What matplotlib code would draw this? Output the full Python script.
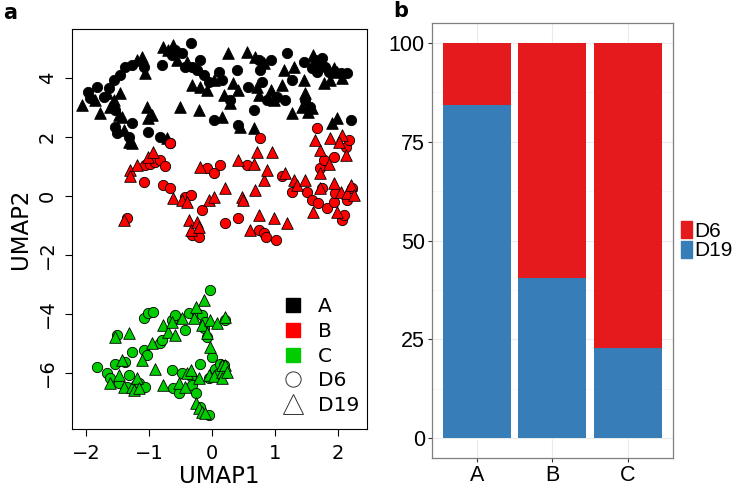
import numpy as np
import matplotlib
matplotlib.use("Agg")
import matplotlib.pyplot as plt
from matplotlib.lines import Line2D
from matplotlib.patches import Patch

# panel a: UMAP points (x, y)
a_d6 = [(-1.96, 3.54), (-1.93, 3.31), (-1.83, 3.7), (-1.72, 3.37), (-1.64, 3.65), (-1.56, 3.93),
        (-1.53, 2.92), (-1.46, 4.1), (-1.53, 2.35), (-1.51, 2.12), (-1.38, 4.38), (-1.32, 2.01),
        (-1.27, 4.44), (-1.27, 2.46), (-1.08, 4.38), (-1.01, 2.18), (-0.82, 2.01), (-0.66, 1.79),
        (-0.79, 4.44), (-0.63, 4.78), (-0.58, 4.95), (-0.48, 4.84), (-0.42, 4.38), (-0.34, 5.17),
        (-0.32, 4.38), (-0.24, 4.27), (-0.19, 4.61), (-0.13, 4.1), (-0.05, 3.88), (0.03, 2.58),
        (0.11, 4.21), (0.16, 3.93), (0.29, 3.25), (0.40, 4.27), (0.42, 2.41), (0.58, 3.71),
        (0.66, 2.92), (0.74, 4.61), (0.77, 4.27), (0.79, 3.88), (0.87, 3.25), (0.93, 4.61),
        (1.03, 3.37), (1.16, 3.25), (1.19, 4.84), (1.27, 3.93), (1.46, 4.55), (1.48, 3.25),
        (1.56, 3.03), (1.59, 4.33), (1.64, 4.61), (1.67, 4.21), (1.75, 4.67), (1.80, 4.38),
        (1.85, 4.21), (2.04, 4.16), (2.14, 4.16), (2.20, 2.58)]
a_d19 = [(-2.06, 3.08), (-1.85, 3.25), (-1.77, 2.8), (-1.67, 3.48), (-1.61, 3.03), (-1.56, 3.25),
         (-1.48, 2.75), (-1.46, 3.48), (-1.43, 2.69), (-1.40, 2.24), (-1.32, 1.84), (-1.27, 1.79),
         (-1.19, 4.61), (-1.11, 4.72), (-1.06, 4.16), (-1.03, 3.03), (-1.01, 2.63), (-0.95, 2.75),
         (-0.71, 1.95), (-0.77, 5.06), (-0.69, 4.95), (-0.61, 5.12), (-0.56, 4.61), (-0.50, 3.03),
         (-0.40, 4.55), (-0.32, 3.76), (-0.21, 2.92), (-0.19, 3.71), (-0.08, 3.59), (0.03, 3.93),
         (0.16, 2.69), (0.19, 3.42), (0.26, 4.84), (0.29, 3.14), (0.34, 3.82), (0.42, 3.59),
         (0.45, 2.35), (0.56, 4.89), (0.66, 2.29), (0.69, 4.72), (0.71, 3.71), (0.74, 3.42),
         (0.82, 4.5), (0.93, 3.59), (0.98, 3.25), (1.11, 3.76), (1.14, 4.27), (1.27, 2.8),
         (1.30, 4.38), (1.43, 3.03), (1.46, 3.93), (1.48, 3.48), (1.53, 2.86), (1.59, 2.97),
         (1.61, 4.78), (1.72, 4.5), (1.77, 3.82), (1.88, 3.93), (1.93, 4.33), (1.90, 2.46),
         (1.98, 2.63), (2.06, 3.99), (1.98, 4.21)]
b_d6 = [(-1.35, -0.76), (-1.08, 0.49), (-1.06, 1.05), (-0.98, 1.1), (-0.90, 1.16), (-0.82, 1.22),
        (-0.74, 1.0), (-0.77, 0.37), (-0.66, 0.26), (-0.42, -0.02), (-0.34, 0.03), (-0.32, -1.32),
        (-0.21, -1.38), (-0.16, -0.47), (-0.08, 0.94), (0.03, 0.77), (0.13, 1.05), (0.21, -0.93),
        (0.42, -0.76), (0.56, 1.05), (0.77, 1.95), (0.74, -1.15), (0.82, -1.27), (0.85, -1.38),
        (1.01, -1.49), (1.11, 0.66), (1.27, 0.15), (1.51, 0.15), (1.59, -0.14), (1.69, -0.25),
        (1.75, 0.26), (1.72, 0.94), (1.67, 2.29), (1.77, 1.22), (1.83, -0.42), (1.93, 1.33),
        (1.93, -0.19), (1.96, 0.09), (2.06, -0.81), (2.12, 1.67), (2.14, -0.14), (2.22, 0.26),
        (2.17, 1.9), (2.09, -0.64), (-0.66, 1.79)]
b_d19 = [(-1.40, -0.81), (-1.30, 0.88), (-1.30, 0.66), (-1.19, 1.05), (-1.01, 1.33), (-0.93, 1.5),
         (-0.61, -0.08), (-0.48, -0.14), (-0.40, -0.19), (-0.37, -0.81), (-0.34, -1.15),
         (-0.24, -0.87), (-0.21, -1.04), (-0.19, 0.99), (-0.05, -0.14), (0.03, -0.02), (0.21, 0.26),
         (0.42, 1.22), (0.48, -0.02), (0.50, -0.14), (0.66, 1.1), (0.69, 0.2), (0.71, 1.5),
         (0.61, -1.15), (0.74, -0.64), (0.82, 0.54), (0.87, 0.88), (0.95, 1.5), (0.98, -0.76),
         (1.16, 0.77), (1.19, -0.93), (1.30, 0.54), (1.35, 0.37), (1.48, 0.54), (1.61, -0.53),
         (1.72, 0.26), (1.72, 0.77), (1.72, 1.56), (1.64, 1.9), (1.85, 1.1), (1.88, 1.95),
         (1.93, 0.43), (1.98, -0.53), (2.04, 0.15), (2.06, 2.07), (2.12, 1.39), (2.14, 0.09),
         (2.20, 0.37), (2.25, 0.03), (2.01, 1.84)]
c_d6 = [(-1.83, -5.79), (-1.67, -6.01), (-1.61, -6.18), (-1.51, -4.71), (-1.53, -5.68),
        (-1.48, -6.35), (-1.38, -5.62), (-1.32, -6.07), (-1.35, -6.46), (-1.27, -5.28),
        (-1.16, -6.35), (-1.08, -4.15), (-1.08, -5.23), (-1.06, -6.46), (-1.03, -5.4),
        (-1.01, -3.98), (-0.93, -3.93), (-0.82, -4.99), (-0.79, -4.88), (-0.63, -4.2),
        (-0.63, -5.9), (-0.61, -6.52), (-0.58, -4.03), (-0.53, -6.69), (-0.48, -6.01),
        (-0.42, -4.54), (-0.37, -3.98), (-0.34, -6.12), (-0.32, -6.41), (-0.26, -6.69),
        (-0.24, -3.98), (-0.19, -5.68), (-0.19, -7.14), (-0.16, -4.03), (-0.13, -4.49),
        (-0.11, -4.26), (-0.08, -4.77), (-0.05, -7.42), (-0.05, -6.18), (-0.03, -3.19),
        (0.00, -5.45), (0.03, -6.01), (0.05, -5.85), (0.11, -6.01), (0.13, -5.68), (0.19, -5.74),
        (0.21, -4.2)]
c_d19 = [(-1.61, -6.35), (-1.53, -4.77), (-1.48, -6.07), (-1.40, -6.46), (-1.43, -5.57),
         (-1.32, -4.66), (-1.27, -6.46), (-1.24, -6.58), (-1.19, -6.18), (-1.16, -6.52),
         (-1.11, -5.57), (-0.95, -5.0), (-0.90, -5.85), (-0.77, -4.37), (-0.77, -6.41),
         (-0.69, -4.6), (-0.63, -4.26), (-0.58, -4.71), (-0.53, -6.35), (-0.48, -4.15),
         (-0.42, -6.46), (-0.40, -6.01), (-0.34, -5.9), (-0.29, -4.15), (-0.26, -3.75),
         (-0.26, -7.03), (-0.21, -6.18), (-0.21, -7.2), (-0.16, -4.37), (-0.16, -7.31),
         (-0.13, -3.53), (-0.08, -4.66), (-0.11, -7.37), (-0.05, -6.07), (-0.03, -5.11),
         (-0.03, -4.2), (0.03, -6.12), (0.08, -4.31), (0.16, -5.74), (0.16, -5.96), (0.16, -6.18),
         (0.21, -5.74), (0.21, -4.09), (0.24, -5.96)]

clusters = ["A", "B", "C"]
cluster_colors = ["black", "#FF0000", "#00CC00"]

# panel b: percentage of D19 per cluster (rest is D6)
bar_cats = ["A", "B", "C"]
pct_d19 = [84.3, 40.5, 22.9]
pct_d6 = [100 - v for v in pct_d19]

fig = plt.figure(figsize=(7.4, 4.87), dpi=100)

# ---- panel a ----
ax1 = fig.add_axes([72/740, 1-429/487, 295/740, 400/487])
groups = [(a_d6, a_d19), (b_d6, b_d19), (c_d6, c_d19)]
for (d6, d19), col in zip(groups, cluster_colors):
    d6 = np.array(d6); d19 = np.array(d19)
    ax1.scatter(d6[:, 0], d6[:, 1], s=55, marker="o", facecolor=col, edgecolor="black", linewidth=0.6)
    ax1.scatter(d19[:, 0], d19[:, 1], s=70, marker="^", facecolor=col, edgecolor="black", linewidth=0.6)
ax1.set_xlim(-2.22, 2.46)
ax1.set_ylim(-7.9, 5.66)
ax1.set_xticks([-2, -1, 0, 1, 2])
ax1.set_yticks([-6, -4, -2, 0, 2, 4])
ax1.set_xticklabels(["\u22122", "\u22121", "0", "1", "2"])
ax1.set_yticklabels(["\u22126", "\u22124", "\u22122", "0", "2", "4"], rotation=90, va="center")
ax1.tick_params(labelsize=14, length=5, width=0.8, direction="out", pad=6)
for s in ax1.spines.values():
    s.set_linewidth(0.8)
ax1.set_xlabel("UMAP1", fontsize=16.5, labelpad=1)
ax1.set_ylabel("UMAP2", fontsize=16.5, labelpad=4)

handles = [Line2D([], [], marker="s", color=c, linestyle="none", markersize=10) for c in cluster_colors]
handles += [Line2D([], [], marker="o", markerfacecolor="none", markeredgecolor="#333333", linestyle="none",
                   markersize=11, markeredgewidth=0.7),
            Line2D([], [], marker="^", markerfacecolor="none", markeredgecolor="#333333", linestyle="none",
                   markersize=15, markeredgewidth=0.7)]
ax1.legend(handles, clusters + ["D6", "D19"], loc="lower right", bbox_to_anchor=(1.02, 0.0),
           frameon=False, fontsize=14.5, handletextpad=0.2, labelspacing=0.28, borderpad=0.2)

fig.text(3/740, 1-13/487, "a", fontsize=15, fontweight="bold", va="center")

# ---- panel b ----
ax2 = fig.add_axes([431.7/740, 1-458/487, 241.3/740, 434.7/487])
xb = np.arange(len(bar_cats))
ax2.bar(xb, pct_d19, width=0.9, color="#377EB8", zorder=2)
ax2.bar(xb, pct_d6, width=0.9, bottom=pct_d19, color="#E41A1C", zorder=2)
ax2.set_xlim(-0.6, 2.6)
ax2.set_ylim(-5, 105)
ax2.set_xticks(xb)
ax2.set_xticklabels(bar_cats, fontname="Liberation Sans")
ax2.set_yticks([0, 25, 50, 75, 100])
ax2.set_yticks([12.5, 37.5, 62.5, 87.5], minor=True)
for lab in ax2.get_yticklabels():
    lab.set_fontname("Liberation Sans")
ax2.tick_params(axis="both", labelsize=15.5, length=3, color="#333333", pad=2)
ax2.tick_params(which="minor", length=0)
ax2.grid(True, which="major", color="#EBEBEB", linewidth=0.8, zorder=0)
ax2.grid(True, which="minor", axis="y", color="#F2F2F2", linewidth=0.5, zorder=0)
for s in ax2.spines.values():
    s.set_color("#7F7F7F")
    s.set_linewidth(0.9)
leg = ax2.legend([Patch(color="#E41A1C"), Patch(color="#377EB8")], ["D6", "D19"],
                 loc="center left", bbox_to_anchor=(1.035, 0.5), frameon=False,
                 prop={"family": "Liberation Sans", "size": 15},
                 handlelength=0.5, handleheight=0.9, handletextpad=0.1, labelspacing=0.0,
                 borderpad=0.0, borderaxespad=0.0)

fig.text(393/740, 1-11/487, "b", fontsize=15, fontweight="bold", va="center")

fig.savefig("out.png", dpi=100)
